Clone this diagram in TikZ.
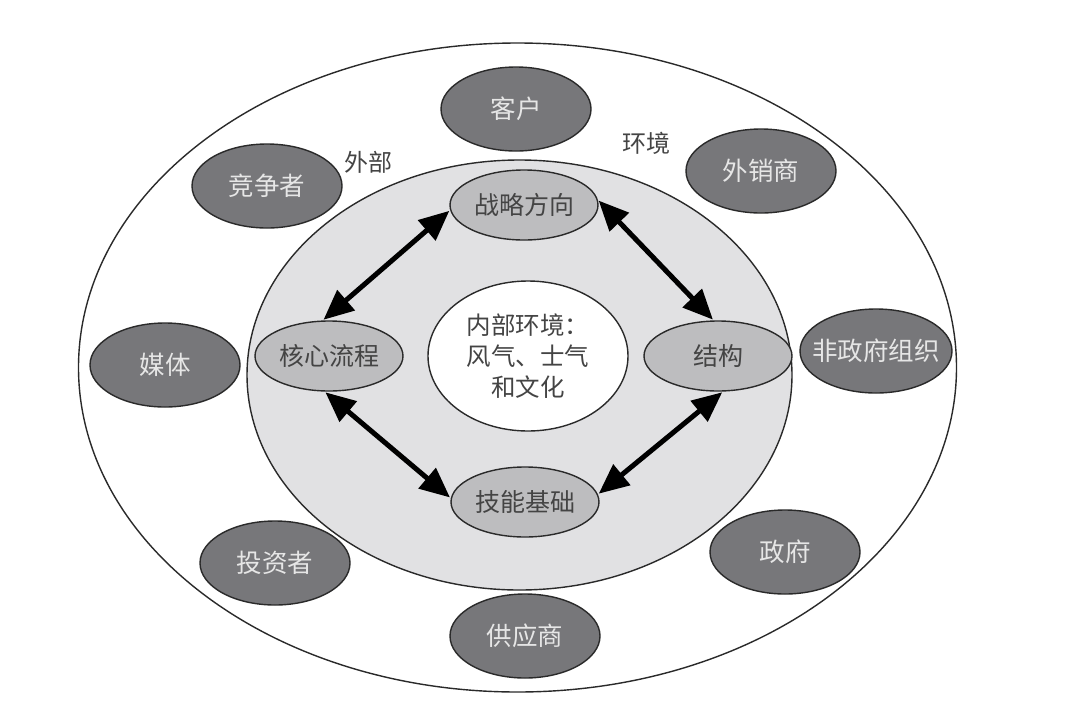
\documentclass[tikz,border=0pt]{standalone}
\usepackage{fontspec}
\setmainfont{Noto Sans CJK SC}
\usetikzlibrary{arrows.meta,shapes.geometric}
\definecolor{darkfill}{HTML}{77777A}
\definecolor{midfill}{HTML}{BDBDBF}
\definecolor{ringfill}{HTML}{E1E1E3}
\definecolor{edgecol}{HTML}{2A2A2A}
\definecolor{lighttext}{HTML}{E6E6E6}
\definecolor{darktext}{HTML}{444444}
\tikzset{
  outerbox/.style={ellipse, draw=edgecol, line width=1.4pt, inner sep=0pt},
  darkbox/.style={ellipse, draw=edgecol, line width=1.4pt, fill=darkfill, text=lighttext,
    minimum width=150pt, minimum height=84pt, inner ysep=0pt, inner xsep=-20pt, font=\fontsize{25.5pt}{28pt}\selectfont},
  midbox/.style={ellipse, draw=edgecol, line width=1.4pt, fill=midfill, text=darktext,
    minimum width=148pt, minimum height=70pt, inner ysep=0pt, inner xsep=-20pt, font=\fontsize{25pt}{28pt}\selectfont},
  lbl/.style={text=darktext, font=\fontsize{24pt}{26pt}\selectfont, inner sep=0pt},
  dbl/.style={line width=5pt, {Triangle[length=30pt,width=26pt]}-{Triangle[length=30pt,width=26pt]}, black, shorten <=1pt, shorten >=1pt}
}
\begin{document}
\begin{tikzpicture}[x=1pt,y=-1pt]
\useasboundingbox (0,0) rectangle (1080,713);
\fill[white] (0,0) rectangle (1080,713);
% outer environment
\node[outerbox, minimum width=878pt, minimum height=649pt] (outer) at (517.5,367.5) {};
% inner gray ring
\node[outerbox, fill=ringfill, minimum width=545pt, minimum height=430pt] (ring) at (519.5,375) {};
% center
\node[outerbox, fill=white, minimum width=200pt, minimum height=150pt, text=darktext, inner xsep=-12pt,
  align=center, font=\fontsize{24.5pt}{31pt}\selectfont] (center) at (528,356) {内部环境：\\风气、士气\\和文化};
% middle nodes
\node[midbox] (strat) at (524,205) {战略方向};
\node[midbox] (core) at (329,356) {核心流程};
\node[midbox] (struct) at (718,356) {结构};
\node[midbox] (skill) at (525,502) {技能基础};
% outer nodes
\node[darkbox] (cust) at (516,109) {客户};
\node[darkbox] (comp) at (267,186) {竞争者};
\node[darkbox] (dist) at (761,171) {外销商};
\node[darkbox] (media) at (165,365) {媒体};
\node[darkbox, minimum width=152pt] (ngo) at (876,351) {非政府组织};
\node[darkbox] (inv) at (275,563) {投资者};
\node[darkbox] (gov) at (785,552) {政府};
\node[darkbox] (supp) at (525,636) {供应商};
% labels
\node[lbl] (lext) at (368,162) {外部};
\node[lbl] (lenv) at (646,143) {环境};
% arrows
\draw[dbl] (strat.184) -- (core.100);
\draw[dbl] (strat.4) -- (struct.97);
\draw[dbl] (core.263) -- (skill.177);
\draw[dbl] (struct.278) -- (skill.6);
\end{tikzpicture}
\end{document}
